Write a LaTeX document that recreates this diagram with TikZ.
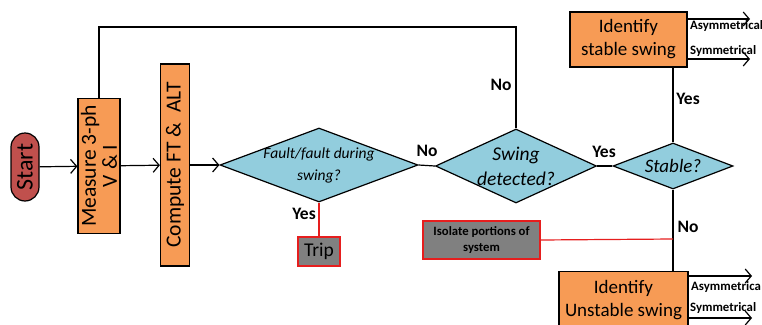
\documentclass[tikz,border=0pt]{standalone}
\usepackage{fontspec}
\setmainfont{Carlito}
\usetikzlibrary{shapes.geometric,arrows.meta}
\definecolor{boxorange}{RGB}{247,155,85}
\definecolor{decblue}{RGB}{146,205,221}
\definecolor{startred}{RGB}{192,80,77}
\definecolor{endgray}{RGB}{128,128,128}
\definecolor{endred}{RGB}{230,30,30}
\tikzset{
  flow/.style={line width=1.2pt, draw=black},
  arr/.style={flow, -{Straight Barb[length=6pt,width=14pt,line width=1.2pt]}},
  procbox/.style={draw=black, line width=1.2pt, fill=boxorange, inner sep=0pt, align=center},
  decision/.style={diamond, draw=black, line width=1.2pt, fill=decblue, inner sep=0pt},
  dectext/.style={align=center, font=\itshape},
  endbox/.style={draw=endred, line width=1.3pt, fill=endgray, inner sep=0pt, align=center},
  redline/.style={line width=1.2pt, draw=endred},
  lbl/.style={font=\bfseries\fontsize{17.5}{17.5}\selectfont},
  smalllbl/.style={font=\bfseries\fontsize{12.8}{12.8}\selectfont, anchor=west, inner sep=0pt}
}
\begin{document}
\begin{tikzpicture}[x=1pt,y=-1pt]
\useasboundingbox (0,0) rectangle (762,324);
\clip (0,0) rectangle (762,324);

% start terminal
\node[draw=black, line width=1.2pt, fill=startred, rounded corners=14pt,
      minimum width=68pt, minimum height=28pt, rotate=90, inner sep=0pt,
      font=\fontsize{24}{24}\selectfont] (start) at (25,167) {Start};

% processing boxes
\node[procbox, rotate=90, minimum width=135pt, minimum height=42pt,
      font=\fontsize{21.5}{21}\selectfont] (meas) at (99,166) {Measure 3-ph\\V \& I};
\node[procbox, rotate=90, minimum width=202pt, minimum height=29pt,
      font=\fontsize{21.5}{21}\selectfont] (comp) at (175,165) {Compute FT \&\ \ ALT};

% decisions
\node[decision, minimum width=198pt, minimum height=74pt,
      label={[dectext, font=\itshape\fontsize{15.5}{22}\selectfont]center:Fault/fault during\\swing?}] (d1) at (319,165) {};
\node[decision, minimum width=161pt, minimum height=74pt,
      label={[dectext, font=\itshape\fontsize{19.5}{25}\selectfont]center:Swing\\detected?}] (d2) at (516,166) {};
\node[decision, minimum width=120pt, minimum height=46pt,
      label={[dectext, font=\itshape\fontsize{19}{19}\selectfont]center:Stable?}] (d3) at (673,166) {};

% end actions
\node[endbox, minimum width=42pt, minimum height=29pt,
      font=\fontsize{19.5}{19.5}\selectfont] (trip) at (319,251.5) {Trip};
\node[endbox, minimum width=117pt, minimum height=38pt,
      font=\bfseries\fontsize{12.7}{16}\selectfont] (iso) at (481.5,240) {Isolate portions of\\system};

% swing identification boxes
\node[procbox, minimum width=117pt, minimum height=55pt,
      font=\fontsize{19}{23}\selectfont] (stab) at (628.5,39.5) {Identify\\stable swing};
\node[procbox, minimum width=129pt, minimum height=56pt,
      font=\fontsize{19}{23}\selectfont, anchor=north] (unst) at (623.5,271) {Identify\\Unstable swing};

% helper points
\coordinate (c1) at (516,27);
\coordinate (c2) at (99,27);
\coordinate (cn) at (673,239);
\coordinate (sa) at (750,19);
\coordinate (ss) at (750,59);
\coordinate (ua) at (752,276);
\coordinate (us) at (752,318);

% main flow
\draw[arr] (start) -- (meas);
\draw[arr] (meas) -- (comp);
\draw[arr] (comp) -- (d1.west);
\draw[flow] (d1.east) -- (d2.west);
\draw[flow] (d2.east) -- (d3.west);
\draw[flow] (d2.north) -- (c1) -- (c2) -- (meas.east);
\draw[flow] (d3.north) -- (stab.south -| d3.north);
\draw[flow] (d3.south) -- (unst.north -| d3.south);
\draw[redline] (d1.south) -- (trip.north);
\draw[redline] (iso.east) -- (cn);

% outputs of the identification boxes
\draw[arr] (stab.east |- sa) -- (sa);
\draw[arr] (stab.east |- ss) -- (ss);
\draw[arr] (unst.east |- ua) -- (ua);
\draw[arr] (unst.east |- us) -- (us);

% labels
\node[lbl] (l1) at (427,151) {No};
\node[lbl] (l2) at (604,152) {Yes};
\node[lbl] (l3) at (501,85) {No};
\node[lbl] (l4) at (304,214) {Yes};
\node[lbl] (l5) at (688,99) {Yes};
\node[lbl] (l6) at (688,227) {No};
\node[smalllbl] (a1) at (690,26) {Asymmetrical};
\node[smalllbl] (s1) at (690,51) {Symmetrical};
\node[smalllbl] (a2) at (691,287) {Asymmetrica};
\node[smalllbl] (s2) at (690,308) {Symmetrical};
\end{tikzpicture}
\end{document}
